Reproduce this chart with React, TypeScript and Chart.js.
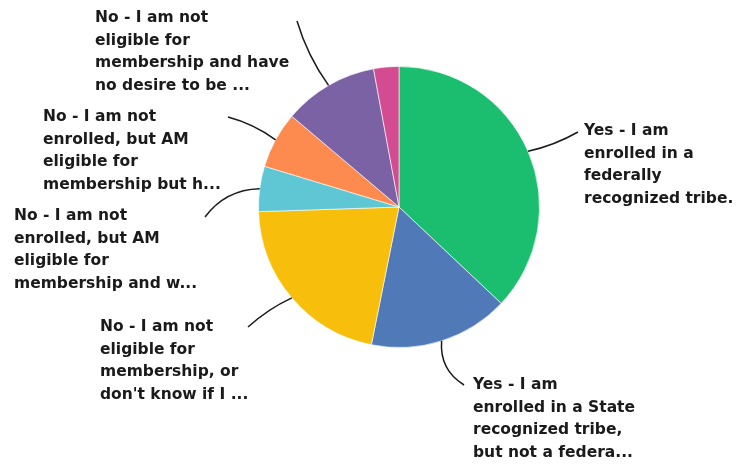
import React, { useEffect, useRef } from "react";
import { Chart, registerables } from "chart.js";

Chart.register(...registerables);

const categories = [
  "Yes - I am enrolled in a federally recognized tribe.",
  "Yes - I am enrolled in a State recognized tribe, but not a federa...",
  "No - I am not eligible for membership, or don't know if I ...",
  "No - I am not enrolled, but AM eligible for membership and w...",
  "No - I am not enrolled, but AM eligible for membership but h...",
  "No - I am not eligible for membership and have no desire to be ...",
  "Other",
];

const values = [37.0, 16.1, 21.3, 5.2, 6.5, 10.9, 2.9];

const colors = ["#1BBE6E", "#5079B7", "#F7BE0C", "#5FC6D4", "#FD8A4E", "#7B62A5", "#D34C91"];

const labelLines: string[][] = [
  ["Yes - I am", "enrolled in a", "federally", "recognized tribe."],
  ["Yes - I am", "enrolled in a State", "recognized tribe,", "but not a federa..."],
  ["No - I am not", "eligible for", "membership, or", "don't know if I ..."],
  ["No - I am not", "enrolled, but AM", "eligible for", "membership and w..."],
  ["No - I am not", "enrolled, but AM", "eligible for", "membership but h..."],
  ["No - I am not", "eligible for", "membership and have", "no desire to be ..."],
  [],
];

// layout of the callouts: text position, leader end and bend
const calloutLayout = [
  { tx: 584, ty: 131, ex: 578, ey: 132, bend: 4 },
  { tx: 473, ty: 385, ex: 464, ey: 385, bend: 15 },
  { tx: 100, ty: 327, ex: 248, ey: 327, bend: 4 },
  { tx: 14, ty: 216, ex: 205, ey: 217, bend: 15 },
  { tx: 43, ty: 117, ex: 228, ey: 117, bend: 5 },
  { tx: 95, ty: 18, ex: 297, ey: 21, bend: -6 },
  null,
];

const calloutPlugin = {
  id: "callouts",
  afterDraw(chart: any) {
    const ctx = chart.ctx;
    const meta = chart.getDatasetMeta(0);
    ctx.save();
    meta.data.forEach((arc: any, i: number) => {
      const lay = calloutLayout[i];
      if (!lay) return;
      const p = arc.getProps(["x", "y", "startAngle", "endAngle", "outerRadius"], true);
      const mid = (p.startAngle + p.endAngle) / 2;
      const sx = p.x + Math.cos(mid) * p.outerRadius;
      const sy = p.y + Math.sin(mid) * p.outerRadius;
      const mx = (sx + lay.ex) / 2;
      const my = (sy + lay.ey) / 2;
      const dx = lay.ex - sx;
      const dy = lay.ey - sy;
      const len = Math.hypot(dx, dy) || 1;
      const cx = mx + (-dy / len) * lay.bend;
      const cy = my + (dx / len) * lay.bend;
      ctx.beginPath();
      ctx.moveTo(sx, sy);
      ctx.quadraticCurveTo(cx, cy, lay.ex, lay.ey);
      ctx.strokeStyle = "#1a1a1a";
      ctx.lineWidth = 1.5;
      ctx.stroke();

      ctx.fillStyle = "#1a1a1a";
      ctx.font = "bold 15.5px 'DejaVu Sans'";
      ctx.textAlign = "left";
      ctx.textBaseline = "middle";
      labelLines[i].forEach((line, k) => {
        ctx.fillText(line, lay.tx, lay.ty + k * 22.5);
      });
    });
    ctx.restore();
  },
};

export default function App() {
  const ref = useRef<HTMLCanvasElement | null>(null);
  useEffect(() => {
    if (!ref.current) return;
    const chart = new Chart(ref.current, {
      type: "pie",
      data: {
        labels: categories,
        datasets: [
          {
            data: values,
            backgroundColor: colors,
            borderColor: "rgba(255,255,255,0.6)",
            borderWidth: 1,
          },
        ],
      },
      options: {
        responsive: false,
        animation: false,
        layout: { padding: { left: 258, right: 201, top: 66, bottom: 116 } },
        plugins: {
          legend: { display: false },
          tooltip: { enabled: false },
          title: { display: false },
        },
      },
      plugins: [calloutPlugin],
    });
    return () => chart.destroy();
  }, []);
  return (
    <div style={{ position: "fixed", left: 0, top: 0, width: 741, height: 464, background: "#fff" }}>
      <canvas ref={ref} width={741} height={464} />
    </div>
  );
}
